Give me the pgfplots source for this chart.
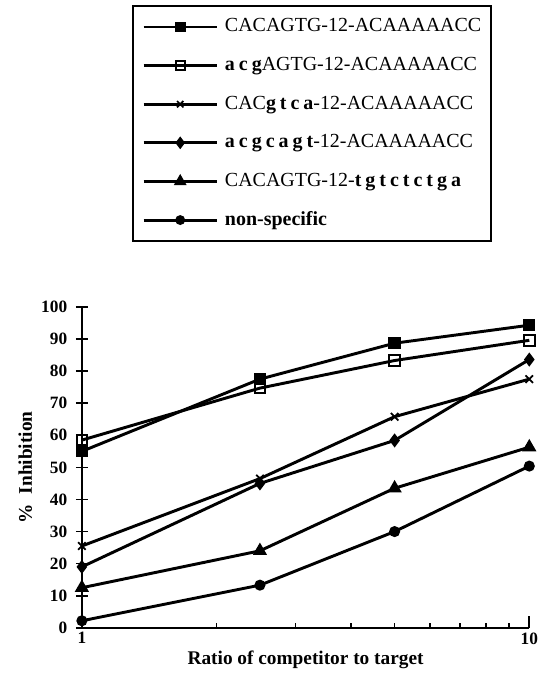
\documentclass[border=0pt]{standalone}
\usepackage{fontspec}
\setmainfont{Liberation Serif}
\usepackage{pgfplots}
\pgfplotsset{compat=1.18}

% bold, letter-spaced substituted bases
\newcommand{\ls}[1]{{\bfseries\addfontfeature{LetterSpace=20}#1}}

\begin{document}
\begin{tikzpicture}
\begin{axis}[
  scale only axis,
  width=336pt, height=241pt,
  xmode=log, xmin=1, xmax=10,
  ymin=0, ymax=100,
  clip=false,
  axis x line=bottom, axis y line=left,
  axis line style={line width=1.5pt, -},
  xtick={1,10}, xticklabels={\raisebox{-5pt}{1},10},
  minor xtick={2,3,4,5,6,7,8,9},
  ytick={0,10,...,100},
  xtick align=inside, ytick align=center,
  major tick length=9pt, minor tick length=4pt,
  every tick/.style={black, line width=1.2pt},
  /pgf/number format/assume math mode=true,
  tick label style={font=\bfseries\fontsize{13}{15}\selectfont},
  yticklabel style={xshift=-3pt},
  label style={font=\bfseries\fontsize{14.5}{17}\selectfont},
  xlabel={Ratio of competitor to target},
  ylabel={\%\ \ Inhibition},
  xlabel style={yshift=2pt},
  legend cell align=left,
  legend image code/.code={
    \draw[mark repeat=2,mark phase=2,#1,/tikz/every mark/.append style={scale=0.85}]
      plot coordinates {(0pt,0pt) (27.5pt,0pt) (55pt,0pt)};
  },
  legend style={
    at={(0.1116,1.9408)}, anchor=north west,
    draw=black, line width=1.5pt,
    font=\fontsize{15}{18}\selectfont,
    inner xsep=7pt, inner ysep=9pt,
    row sep=15.5pt,
    nodes={inner sep=0pt, text height=10.5pt, text depth=3pt},
    /tikz/every odd column/.append style={column sep=5pt},
  },
]
\addplot[black, line width=2.2pt, mark=square*, mark size=3.5pt]
  coordinates {(1,55)(2.5,77.5)(5,88.7)(10,94.3)};
\addlegendentry{CACAGTG-12-ACAAAAACC}

\addplot[black, line width=2.2pt, mark=square, mark size=4pt,
  mark options={fill=white, line width=1.5pt}]
  coordinates {(1,58.5)(2.5,74.7)(5,83.3)(10,89.6)};
\addlegendentry{\ls{acg}AGTG-12-ACAAAAACC}

\addplot[black, line width=2.2pt, mark=x, mark size=4pt,
  mark options={line width=1.3pt}]
  coordinates {(1,25.5)(2.5,46.5)(5,65.8)(10,77.5)};
\addlegendentry{CAC\ls{gtca}-12-ACAAAAACC}

\addplot[black, line width=2.2pt, mark=diamond*, mark size=3.5pt]
  coordinates {(1,19)(2.5,45)(5,58.4)(10,83.6)};
\addlegendentry{\ls{acgcagt}-12-ACAAAAACC}

\addplot[black, line width=2.2pt, mark=triangle*, mark size=4pt]
  coordinates {(1,12.5)(2.5,24)(5,43.5)(10,56.3)};
\addlegendentry{CACAGTG-12-\ls{tgtctctga}}

\addplot[black, line width=2.2pt, mark=*, mark size=3pt]
  coordinates {(1,2.2)(2.5,13.3)(5,30)(10,50.4)};
\addlegendentry{\textbf{non-specific}}

% page frame of the reference
\path (rel axis cs:-0.1830,-0.1402) rectangle (rel axis cs:1.0379,1.9564);
\end{axis}
\end{tikzpicture}
\end{document}
